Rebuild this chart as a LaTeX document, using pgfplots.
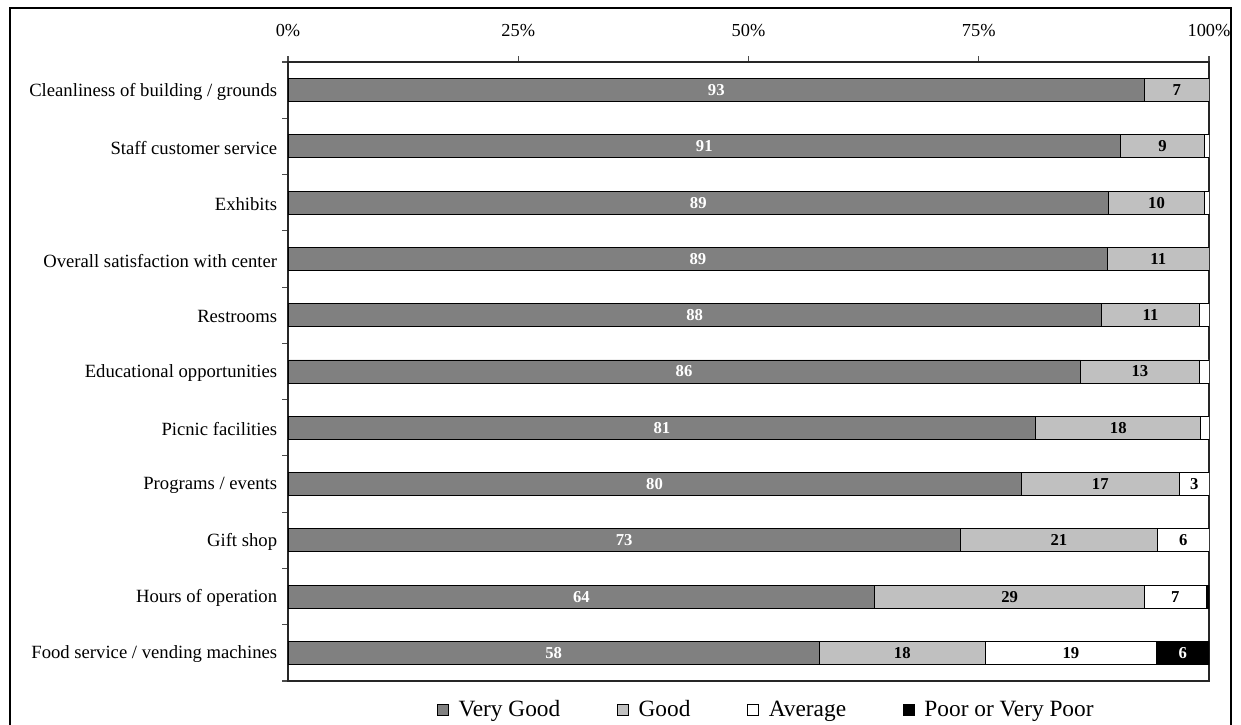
\documentclass[border=0pt]{standalone}
\usepackage{fontspec}
\setmainfont{Liberation Serif}
\usepackage{pgfplots}
\usepackage{pgfplotstable}
\pgfplotsset{compat=1.18}
\definecolor{vgood}{HTML}{808080}
\definecolor{good}{HTML}{C0C0C0}
\pgfplotstableread{
idx vg g av pr lvg lg lav lpr
0 93.0 7.0 0.0 0.0 93 7 {} {}
1 90.4 9.1 0.5 0.0 91 9 {} {}
2 89.1 10.4 0.5 0.0 89 10 {} {}
3 89.0 11.0 0.0 0.0 89 11 {} {}
4 88.3 10.7 1.0 0.0 88 11 {} {}
5 86.0 13.0 1.0 0.0 86 13 {} {}
6 81.2 17.9 0.9 0.0 81 18 {} {}
7 79.6 17.2 3.2 0.0 80 17 3 {}
8 73.0 21.4 5.6 0.0 73 21 6 {}
9 63.7 29.3 6.7 0.3 64 29 7 {}
10 57.7 18.0 18.6 5.7 58 18 19 6
}\data
\begin{document}
\begin{tikzpicture}
\useasboundingbox (0,0) rectangle (744.6pt,435pt);
\draw[black, line width=0.8pt] (6pt,-20pt) -- (6pt,430.2pt) -- (738.6pt,430.2pt) -- (738.6pt,-20pt);
\begin{axis}[
  at={(172.8pt,26.4pt)}, anchor=south west,
  scale only axis, width=552.6pt, height=371.4pt,
  xbar stacked, bar width=13.8pt,
  xmin=0, xmax=100, ymin=-0.5, ymax=10.5, y dir=reverse,
  axis line style={black!85, line width=0.8pt},
  tick style={black!70, line width=0.7pt},
  tick align=outside, major tick length=3.5pt,
  xtick={0,25,50,75,100},
  xticklabels={0\%,25\%,50\%,75\%,100\%},
  xtick pos=upper, xticklabel pos=upper,
  xticklabel style={font=\fontsize{11}{13}\selectfont, yshift=8pt},
  ytick={-0.5,0.5,...,10.5}, yticklabels={},
  ytick pos=left,
  legend columns=4,
  legend style={at={(axis description cs:0.520,-0.047)}, anchor=center,
    draw=none, fill=none, font=\fontsize{14}{16}\selectfont,
    /tikz/every odd column/.append style={column sep=4pt},
    /tikz/every even column/.append style={column sep=32pt}},
  legend image code/.code={\draw[#1, draw=black, line width=0.4pt] (0pt,-3.3pt) rectangle (6.6pt,3.3pt);},
  every axis plot/.append style={draw=black, line width=0.5pt},
]
\addplot[fill=vgood] table[x=vg, y=idx]{\data};
\addlegendentry{Very Good}
\addplot[fill=good] table[x=g, y=idx]{\data};
\addlegendentry{Good}
\addplot[fill=white] table[x=av, y=idx]{\data};
\addlegendentry{Average}
\addplot[fill=black] table[x=pr, y=idx]{\data};
\addlegendentry{Poor or Very Poor}
\end{axis}
\begin{axis}[
  at={(172.8pt,26.4pt)}, anchor=south west,
  scale only axis, width=552.6pt, height=371.4pt,
  xmin=0, xmax=100, ymin=-0.5, ymax=10.5, y dir=reverse,
  axis line style={draw=none}, tick style={draw=none},
  xtick=\empty, ytick={0,...,10},
  yticklabels={Cleanliness of building / grounds, Staff customer service, Exhibits, Overall satisfaction with center, Restrooms, Educational opportunities, Picnic facilities, Programs / events, Gift shop, Hours of operation, Food service / vending machines},
  yticklabel style={font=\fontsize{11.2}{13}\selectfont, xshift=-3pt, yshift=-1pt},
  clip=false,
  nodes near coords, point meta=explicit symbolic,
  nodes near coords style={anchor=center, font=\bfseries\fontsize{10}{12}\selectfont},
]
\addplot[only marks, mark=none, nodes near coords style={text=white}] table[x expr=\thisrow{vg}/2, y=idx, meta=lvg]{\data};
\addplot[only marks, mark=none, nodes near coords style={text=black}] table[x expr=\thisrow{vg}+\thisrow{g}/2, y=idx, meta=lg]{\data};
\addplot[only marks, mark=none, nodes near coords style={text=black}] table[x expr=\thisrow{vg}+\thisrow{g}+\thisrow{av}/2, y=idx, meta=lav]{\data};
\addplot[only marks, mark=none, nodes near coords style={text=white}] table[x expr=\thisrow{vg}+\thisrow{g}+\thisrow{av}+\thisrow{pr}/2, y=idx, meta=lpr]{\data};
\end{axis}
\end{tikzpicture}
\end{document}
